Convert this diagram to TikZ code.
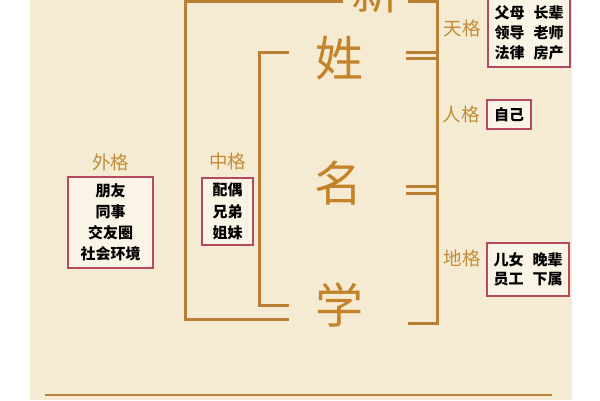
\documentclass[tikz,border=0pt]{standalone}
\usepackage{fontspec}
\newfontfamily\cjk{Noto Sans CJK SC}
\usetikzlibrary{positioning}
\definecolor{paper}{HTML}{F4EBD2}
\definecolor{gold}{HTML}{B98035}
\definecolor{ink}{HTML}{C28C38}
\definecolor{title}{HTML}{C4822A}
\definecolor{frame}{HTML}{B5495F}

\begin{document}
\begin{tikzpicture}[x=1pt,y=-1pt,
   ge/.style={font=\cjk\fontsize{18.5}{18.5}\selectfont,text=ink,inner sep=0pt},
   role/.style={draw=frame,line width=2pt,fill=paper!55!white,align=center,inner sep=0pt,
     font=\cjk\bfseries\fontsize{15}{21}\selectfont},
   big/.style={font=\cjk\fontsize{48}{48}\selectfont,text=title,inner sep=0pt},
   bar/.style={draw=gold,line width=3pt}]
   \useasboundingbox (0,0) rectangle (600,400);
   \fill[paper] (30,0) rectangle (572,400);

   % name column
   \begin{scope}
   \clip (0,0) rectangle (600,400);
   \node[big,anchor=south] (xin) at (375,13) {新};
   \end{scope}
   \node[big] (xing) at (339,58) {姓};
   \node[big] (ming) at (338,183) {名};
   \node[big] (xue)  at (339,305) {学};

   % brackets
   \draw[bar] (343,1.5) -- (185,1.5) -- (185,319) -- (289,319);
   \draw[bar] (289,52) -- (259,52) -- (259,305) -- (289,305);
   \draw[bar] (408,1.5) -- (437,1.5) -- (437,323) -- (408,323);
   \draw[bar] (406,52) -- (437,52) (406,58.5) -- (437,58.5);
   \draw[bar] (406,186) -- (437,186) (406,193) -- (437,193);
   \draw[bar,line width=2.4pt] (45,395) -- (552,395);

   % boxes
   \node[role,minimum width=85pt,minimum height=91pt] (wai) at (110.5,222.5)
      {朋友\\同事\\交友圈\\社会环境};
   \node[role,minimum width=51pt,minimum height=67pt,font=\cjk\bfseries\fontsize{15}{21.5}\selectfont] (zhong) at (227.5,211.5)
      {配偶\\兄弟\\姐妹};
   \node[role,minimum width=82pt,minimum height=68pt,font=\cjk\bfseries\fontsize{15}{20}\selectfont] (tian) at (529,33)
      {父母\hspace{9pt}长辈\\领导\hspace{9pt}老师\\法律\hspace{9pt}房产};
   \node[role,minimum width=44pt,minimum height=29pt] (ren) at (509,114.5) {自己};
   \node[role,minimum width=82pt,minimum height=53pt,font=\cjk\bfseries\fontsize{15}{19}\selectfont] (di) at (528,269.5)
      {儿女\hspace{9pt}晚辈\\员工\hspace{9pt}下属};

   % labels
   \node[ge] (waige) [above=5pt of wai] {外格};
   \node[ge] (zhongge) [above=7pt of zhong] {中格};
   \node[ge] (tiange) at (462,28) {天格};
   \node[ge] (renge) [left=6pt of ren] {人格};
   \node[ge] (dige) at (462,258) {地格};
\end{tikzpicture}
\end{document}
